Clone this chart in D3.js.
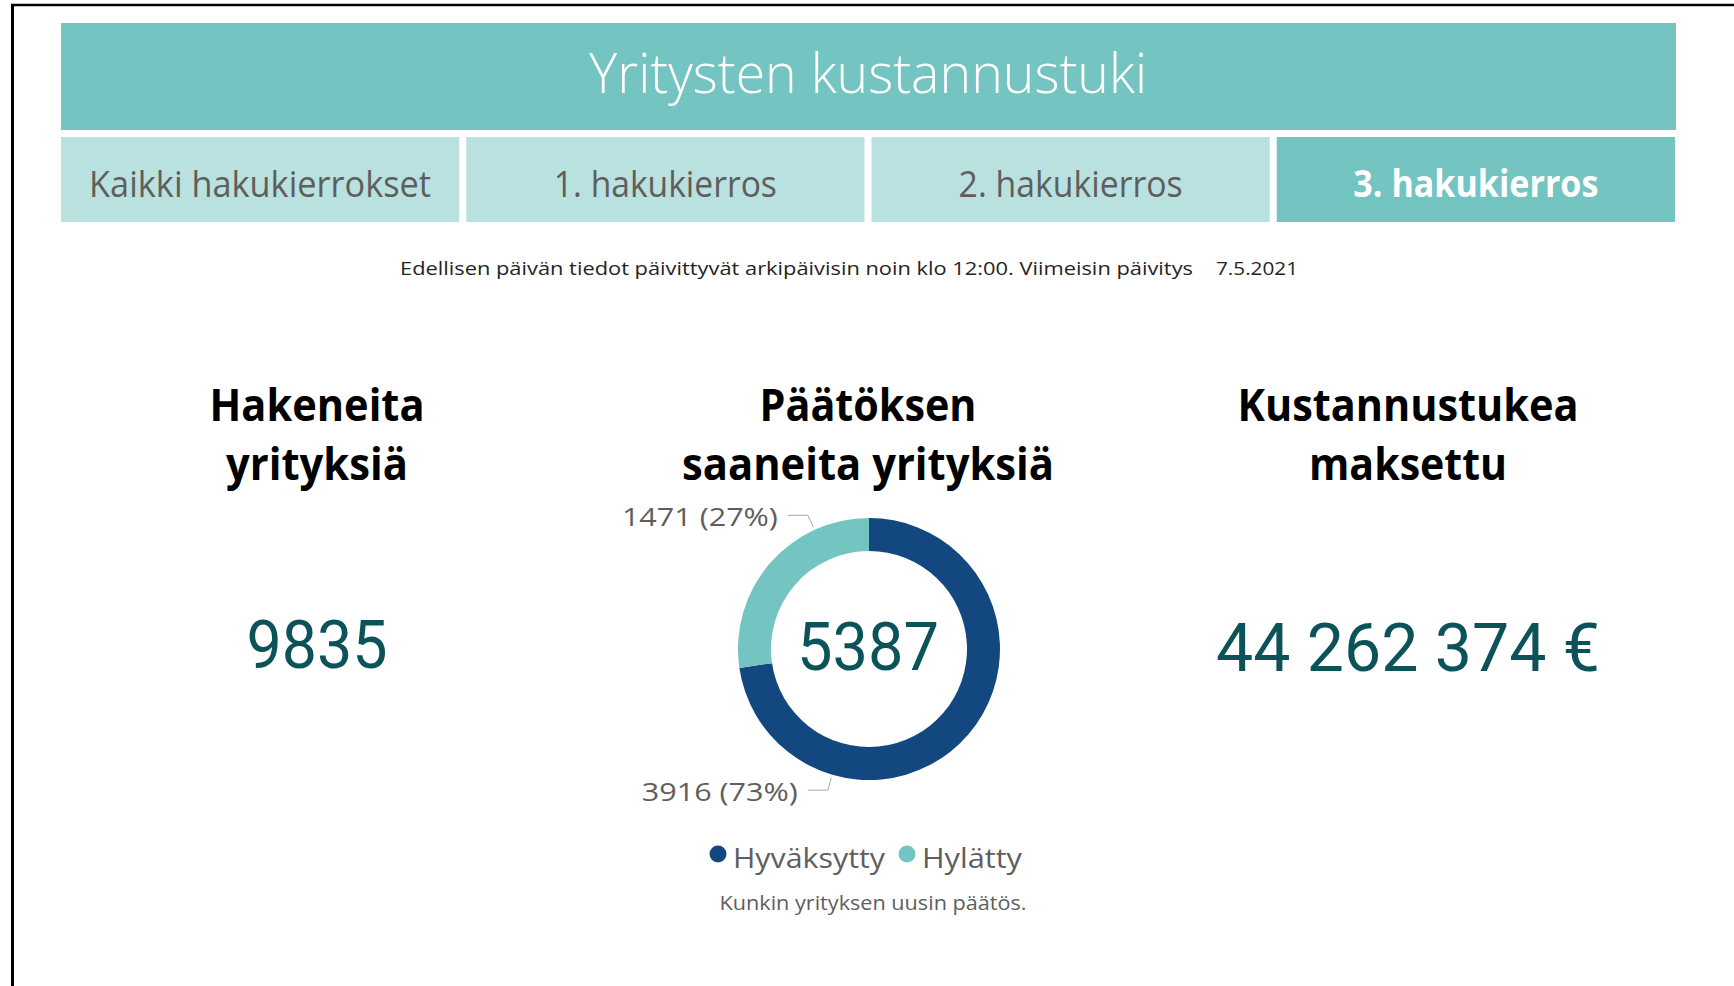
<!DOCTYPE html>
<html>
<head>
<meta charset="utf-8">
<script src="https://cdn.jsdelivr.net/npm/d3@7"></script>
<style>
  html, body { margin: 0; padding: 0; background: #fff; overflow: hidden; }
  svg { display: block; font-family: "Open Sans", "Noto Sans", sans-serif; }
</style>
</head>
<body>
<svg id="chart" width="1734" height="986"></svg>
<script>
// ---- data ----
var pageTitle = "Yritysten kustannustuki";
var tabs = ["Kaikki hakukierrokset", "1. hakukierros", "2. hakukierros", "3. hakukierros"];
var activeTab = "3. hakukierros";
var updateNote = "Edellisen päivän tiedot päivittyvät arkipäivisin noin klo 12:00. Viimeisin päivitys";
var updateDate = "7.5.2021";
var kpiKeys = ["applicants", "decisions", "paid"];
var kpiTitles = [["Hakeneita", "yrityksiä"], ["Päätöksen", "saaneita yrityksiä"], ["Kustannustukea", "maksettu"]];
var applicants = 9835;
var paidEuro = 44262374;
var decisionLabels = ["Hyväksytty", "Hylätty"];
var decisionValues = [3916, 1471];
var footnote = "Kunkin yrityksen uusin päätös.";

// ---- styles ----
var teal = "#74c4c2",
    tealLight = "#b9e1e0",
    navy = "#12487f",
    valueColor = "#0c5259",
    grey = "#605e5c";

var fi = d3.formatLocale({decimal: ",", thousands: " ", grouping: [3], currency: ["", " €"]}),
    fmtEuro = fi.format("$,d"),
    fmtInt = d3.format("d"),
    fmtPct = d3.format(".0%");

var svg = d3.select("#chart");

// squeeze a text to the width it has in the report
function fit(sel, w) {
  sel.attr("textLength", w).attr("lengthAdjust", "spacingAndGlyphs");
}

// frame
svg.append("line").attr("x1", 12.5).attr("x2", 12.5).attr("y1", 4).attr("y2", 986)
  .attr("stroke", "#000").attr("stroke-width", 3);
svg.append("line").attr("x1", 11).attr("x2", 1734).attr("y1", 5).attr("y2", 5)
  .attr("stroke", "#000").attr("stroke-width", 2.5);

// header
svg.append("rect").attr("x", 61).attr("y", 23).attr("width", 1615).attr("height", 107).attr("fill", teal);
svg.append("text")
  .attr("x", 868).attr("y", 93)
  .attr("text-anchor", "middle")
  .attr("fill", "#fff")
  .style("font-size", "56px").style("font-weight", 300)
  .text(pageTitle)
  .call(fit, 558);

// tabs
var xTab = d3.scaleBand().domain(tabs).range([61, 1675]).paddingInner(0.0173);
var tabW = {"Kaikki hakukierrokset": 342, "1. hakukierros": 223, "2. hakukierros": 224, "3. hakukierros": 245};

var tab = svg.selectAll(".tab")
  .data(tabs)
  .enter().append("g")
  .attr("class", "tab")
  .attr("transform", d => "translate(" + xTab(d) + ",137)");

tab.append("rect")
  .attr("width", xTab.bandwidth())
  .attr("height", 85)
  .attr("fill", d => d === activeTab ? teal : tealLight);

tab.append("text")
  .attr("x", xTab.bandwidth() / 2)
  .attr("y", 60)
  .attr("text-anchor", "middle")
  .attr("fill", d => d === activeTab ? "#fff" : grey)
  .style("font-size", "37px")
  .style("font-weight", d => d === activeTab ? 700 : 400)
  .text(d => d)
  .each(function(d) { d3.select(this).call(fit, tabW[d]); });

// update note
svg.append("text")
  .attr("x", 400).attr("y", 275)
  .attr("fill", "#252423")
  .style("font-size", "19px")
  .text(updateNote)
  .call(fit, 793);
svg.append("text")
  .attr("x", 1216).attr("y", 275)
  .attr("fill", "#252423")
  .style("font-size", "19px")
  .text(updateDate)
  .call(fit, 82);

// KPI titles
var xKpi = d3.scaleOrdinal().domain(kpiKeys).range([317, 868, 1408]);
var titleW = [[215, 182], [217, 372], [341, 198]];

kpiKeys.forEach(function(k, i) {
  var t = svg.append("text")
    .attr("text-anchor", "middle")
    .attr("fill", "#000")
    .style("font-size", "45px")
    .style("font-weight", 700);
  kpiTitles[i].forEach(function(line, j) {
    t.append("tspan")
      .attr("x", xKpi(k))
      .attr("y", 421 + j * 59)
      .text(line)
      .call(fit, titleW[i][j]);
  });
});

// KPI values
function bigValue(x, y, txt, w) {
  svg.append("text")
    .attr("x", x).attr("y", y)
    .attr("text-anchor", "middle")
    .attr("fill", valueColor)
    .style("font-family", "Roboto, 'DejaVu Sans', sans-serif")
    .style("font-size", "67px")
    .text(txt)
    .call(fit, w);
}
bigValue(xKpi("applicants"), 668, fmtInt(applicants), 141);
bigValue(xKpi("paid"), 671, fmtEuro(paidEuro), 384);

// donut
var cx = 869, cy = 649, rIn = 98, rOut = 131;
var color = d3.scaleOrdinal().domain(decisionLabels).range([navy, teal]);
var total = d3.sum(decisionValues);
var pie = d3.pie().sort(null).value(d => d.value);
var arcs = pie(decisionLabels.map((l, i) => ({label: l, value: decisionValues[i]})));
var arc = d3.arc().innerRadius(rIn).outerRadius(rOut);

var donut = svg.append("g").attr("transform", "translate(" + cx + "," + cy + ")");
donut.selectAll("path.slice")
  .data(arcs)
  .enter().append("path")
  .attr("class", "slice")
  .attr("d", arc)
  .attr("fill", d => color(d.data.label));

bigValue(cx - 1, 670, fmtInt(total), 142);

// data labels with leader lines
function polar(a, r) { return [r * Math.sin(a), -r * Math.cos(a)]; }
arcs.forEach(function(d) {
  var a = d.startAngle + 0.75 * (d.endAngle - d.startAngle),
      p0 = polar(a, rOut + 3),
      p1 = polar(a, rOut + 16),
      p2 = [p1[0] - 20, p1[1]];
  donut.append("path")
    .attr("d", d3.line()([p0, p1, p2]))
    .attr("fill", "none")
    .attr("stroke", "#a6a6a6")
    .attr("stroke-width", 1);
  donut.append("text")
    .attr("x", p2[0] - 10)
    .attr("y", p2[1])
    .attr("dy", "0.42em")
    .attr("text-anchor", "end")
    .attr("fill", grey)
    .style("font-size", "26px")
    .text(d.data.value + " (" + fmtPct(d.data.value / total) + ")")
    .call(fit, 156);
});

// legend
var legend = svg.append("g").attr("transform", "translate(0,854)");
var lx = 709;
decisionLabels.forEach(function(l) {
  legend.append("circle").attr("cx", lx + 9).attr("cy", 0).attr("r", 8.5).attr("fill", color(l));
  var t = legend.append("text")
    .attr("x", lx + 24).attr("y", 14)
    .attr("fill", grey)
    .style("font-size", "28px")
    .text(l);
  var w = l === "Hyväksytty" ? 152 : 100;
  t.call(fit, w);
  lx += 24 + w + 13;
});

// footnote
svg.append("text")
  .attr("x", 873).attr("y", 910)
  .attr("text-anchor", "middle")
  .attr("fill", grey)
  .style("font-size", "20px")
  .text(footnote)
  .call(fit, 307);
</script>
</body>
</html>
